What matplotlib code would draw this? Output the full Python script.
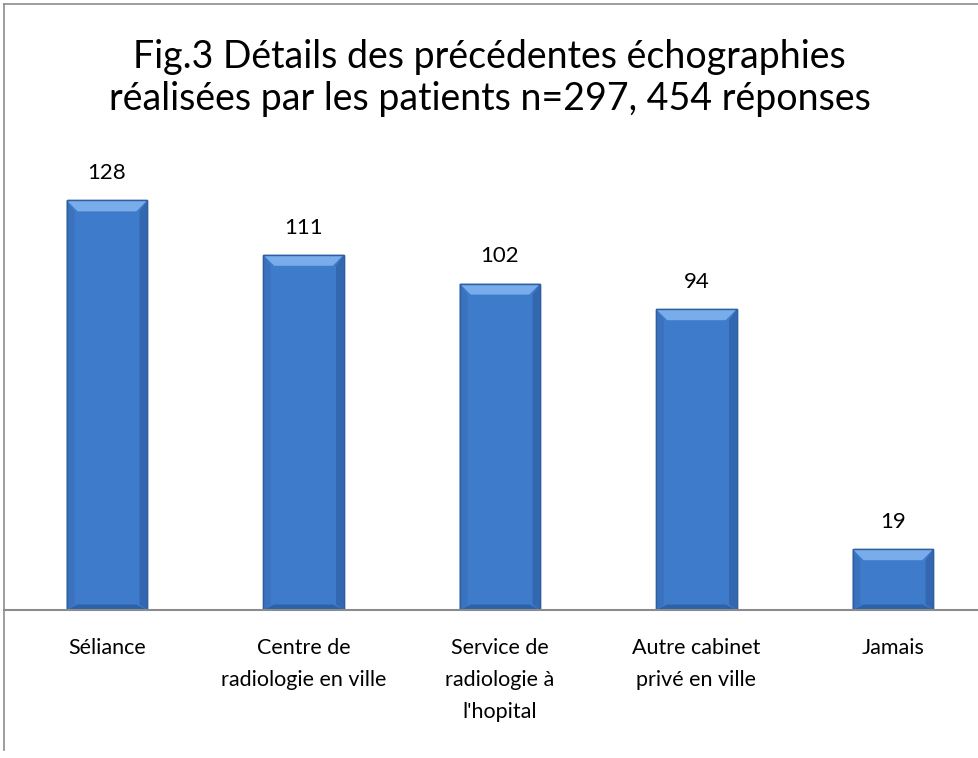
import matplotlib
matplotlib.use("Agg")
import matplotlib.pyplot as plt
from matplotlib.lines import Line2D
from matplotlib.patches import Polygon

# Data
categories = ["Séliance", "Centre de\nradiologie en ville", "Service de\nradiologie à\nl'hopital",
              "Autre cabinet\nprivé en ville", "Jamais"]
values = [128, 111, 102, 94, 19]

W, H = 979, 758
fig = plt.figure(figsize=(W / 100, H / 100), dpi=100)
plt.rcParams['font.family'] = ['Lato', 'DejaVu Sans']

# plot area in pixel coords -> figure fractions
left_px, right_px = 4, 979
base_px, top_px = 610, 162
ax = fig.add_axes([left_px / W, 1 - base_px / H, (right_px - left_px) / W, (base_px - top_px) / H])
ax.set_xlim(-0.524, 4.438)
ax.set_ylim(0, 140)

x = list(range(len(values)))
bars = ax.bar(x, values, width=0.41, color="#3E7BCB", edgecolor="#2F5F9E", linewidth=1.0, zorder=2)

# bevel look, like the Excel bars (size in pixels converted to data units)
inv = ax.transData.inverted()
p0 = inv.transform((0, 0))
p1 = inv.transform((11, 11))
bx, by = p1[0] - p0[0], p1[1] - p0[1]
for b in bars:
    x0, y0 = b.get_x(), b.get_y()
    x1, y1 = x0 + b.get_width(), y0 + b.get_height()
    faces = [
        ([(x0, y1), (x1, y1), (x1 - bx, y1 - by), (x0 + bx, y1 - by)], "#78ACEB"),
        ([(x0, y0), (x1, y0), (x1 - bx, y0 + by * 0.5), (x0 + bx, y0 + by * 0.5)], "#2E62A8"),
        ([(x0, y0), (x0, y1), (x0 + bx * 0.7, y1 - by), (x0 + bx * 0.7, y0 + by * 0.5)], "#3A72BE"),
        ([(x1, y0), (x1, y1), (x1 - bx * 0.7, y1 - by), (x1 - bx * 0.7, y0 + by * 0.5)], "#3367B0"),
    ]
    for pts, c in faces:
        ax.add_patch(Polygon(pts, closed=True, facecolor=c, edgecolor="none", zorder=3))
    ax.add_patch(Polygon([(x0, y0), (x0, y1), (x1, y1), (x1, y0)], closed=True,
                         facecolor="none", edgecolor="#2F5F9E", linewidth=1.0, zorder=4))

# value labels
for xi, v in zip(x, values):
    ax.text(xi, v + 8.5, str(v), ha="center", va="center", fontsize=16, color="black")

ax.set_yticks([])
ax.set_xticks(x)
ax.set_xticklabels(categories, fontsize=15.5, linespacing=1.75, va="top")
ax.tick_params(axis="x", length=0, pad=20)
for s in ["top", "right", "left"]:
    ax.spines[s].set_visible(False)
ax.spines["bottom"].set_color("#8C8C8C")
ax.spines["bottom"].set_linewidth(1.5)
ax.spines["bottom"].set_zorder(5)

fig.text(0.5, 1 - 78 / H, "Fig.3 Détails des précédentes échographies\nréalisées par les patients n=297, 454 réponses",
         ha="center", va="center", fontsize=27, linespacing=1.2)

# chart frame (left and top edges visible)
fig.add_artist(Line2D([4 / W, 4 / W], [1 - 4 / H, 1 - 750 / H], color="#8C8C8C", linewidth=1.2))
fig.add_artist(Line2D([4 / W, 1.0], [1 - 4 / H, 1 - 4 / H], color="#8C8C8C", linewidth=1.2))

fig.savefig("out.png", dpi=100)
